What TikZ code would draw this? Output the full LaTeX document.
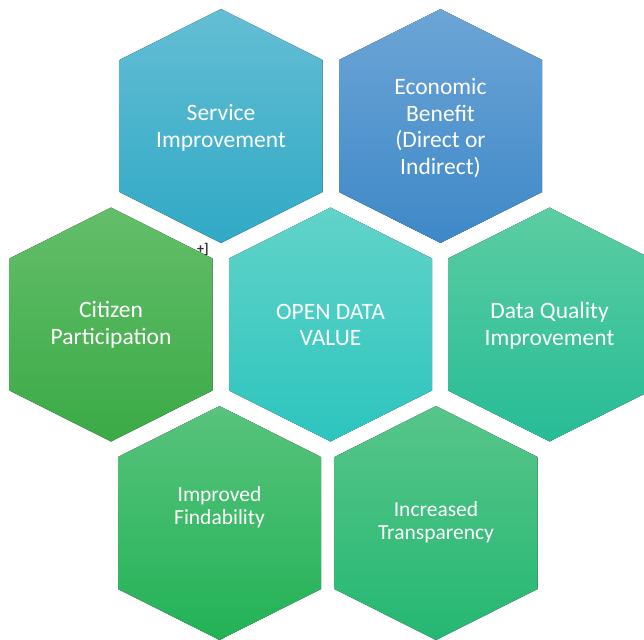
\documentclass[tikz,border=0pt]{standalone}
\usepackage{fontspec}
\setmainfont{Carlito}

% gradient colours, light (top) to dark (bottom)
\definecolor{svcTop}{RGB}{100,190,212}
\definecolor{svcBot}{RGB}{48,169,198}
\definecolor{ecoTop}{RGB}{108,165,214}
\definecolor{ecoBot}{RGB}{62,136,200}
\definecolor{citTop}{RGB}{100,190,106}
\definecolor{citBot}{RGB}{58,170,70}
\definecolor{odvTop}{RGB}{98,211,201}
\definecolor{odvBot}{RGB}{44,197,190}
\definecolor{dqiTop}{RGB}{92,205,162}
\definecolor{dqiBot}{RGB}{38,188,150}
\definecolor{finTop}{RGB}{88,195,124}
\definecolor{finBot}{RGB}{34,178,86}
\definecolor{traTop}{RGB}{88,197,138}
\definecolor{traBot}{RGB}{36,184,114}

% hexagon cell: centre x, centre y, top colour, bottom colour
\newcommand\hexcell[4]{%
  \fill[top color=#3, bottom color=#4]
    (#1,#2-117) -- (#1+101.5,#2-66) -- (#1+101.5,#2+66) --
    (#1,#2+117) -- (#1-101.5,#2+66) -- (#1-101.5,#2-66) -- cycle;%
}

\begin{document}
\begin{tikzpicture}[x=1pt,y=-1pt,
  hexlabel/.style={text=white, align=center, inner sep=0pt,
    font=\fontsize{23.5}{26.8}\selectfont},
  smalllabel/.style={hexlabel, font=\fontsize{21.5}{23.3}\selectfont}]
\useasboundingbox (0,0) rectangle (644,639);

% top row
\hexcell{221}{126}{svcTop}{svcBot}
\hexcell{440.5}{126}{ecoTop}{ecoBot}
% middle row
\hexcell{111}{324.5}{citTop}{citBot}
\hexcell{330.5}{324.5}{odvTop}{odvBot}
\hexcell{549.5}{324.5}{dqiTop}{dqiBot}
% bottom row
\hexcell{219.5}{523}{finTop}{finBot}
\hexcell{436}{523}{traTop}{traBot}

\node[hexlabel] (service) at (221,127.5) {Service\\Improvement};
\node[hexlabel] (economic) at (440.5,128) {Economic\\Benefit\\(Direct or\\Indirect)};
\node[hexlabel] (citizen) at (111,325) {Citizen\\Participation};
\node[hexlabel] (value) at (330.5,325) {OPEN DATA\\VALUE};
\node[hexlabel] (quality) at (549.5,325.5) {Data Quality\\Improvement};
\node[smalllabel] (findability) at (219.5,507) {Improved\\Findability};
\node[smalllabel] (transparency) at (436,522) {Increased\\Transparency};

% stray marker near the edge of the citizen cell
\node[font=\bfseries\fontsize{14}{14}\selectfont, text=black!80, inner sep=0pt] (marker) at (203,249) {+]};
\end{tikzpicture}
\end{document}
